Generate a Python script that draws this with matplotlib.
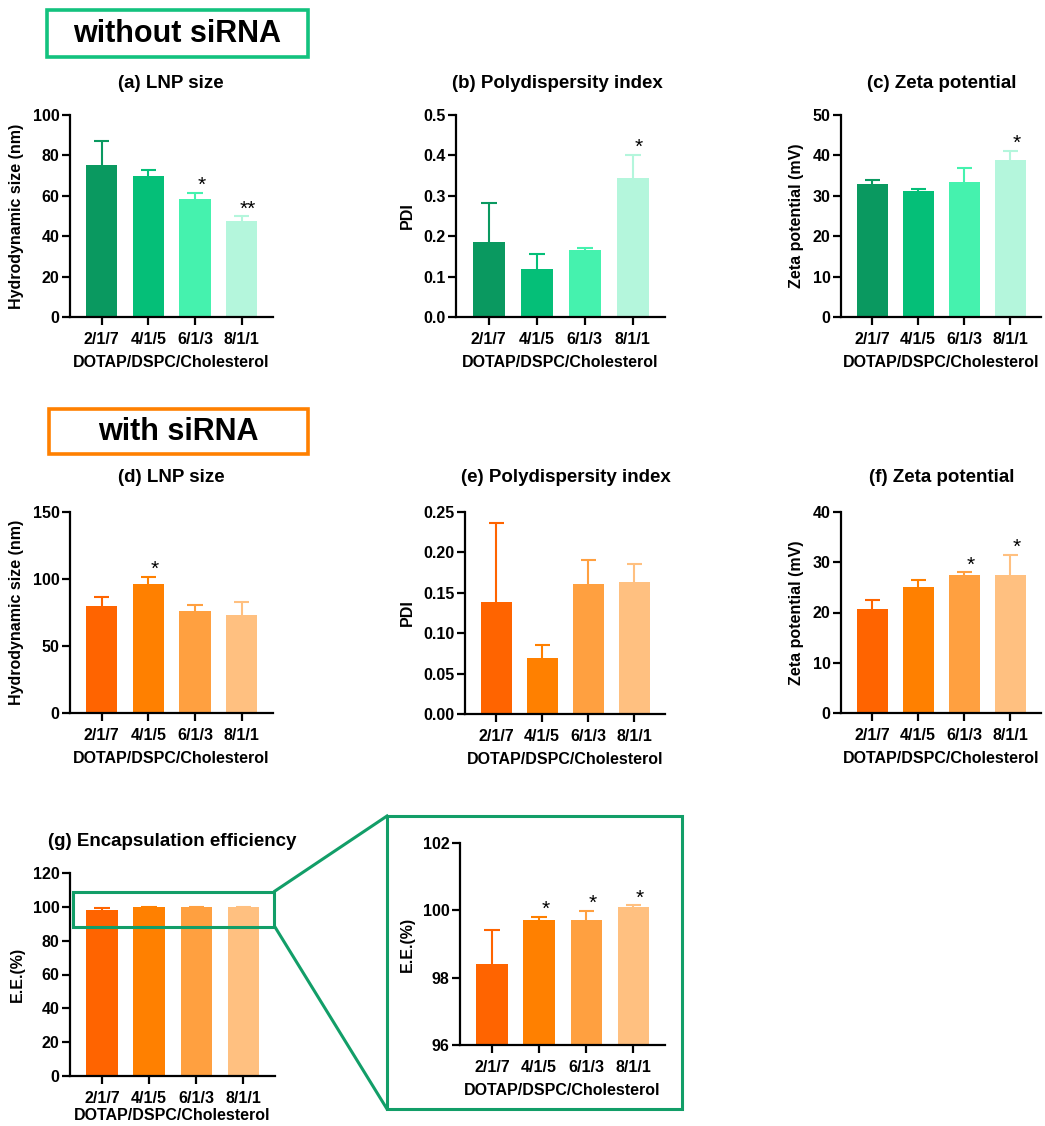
import matplotlib
matplotlib.use("Agg")
import matplotlib.pyplot as plt
from matplotlib.patches import Rectangle
from matplotlib.lines import Line2D

plt.rcParams['font.family'] = ['Liberation Sans', 'DejaVu Sans']
plt.rcParams['font.weight'] = 'bold'
plt.rcParams['axes.labelweight'] = 'bold'

# ---- data ----
ratios = ['2/1/7', '4/1/5', '6/1/3', '8/1/1']
xlabel = 'DOTAP/DSPC/Cholesterol'

green = ['#0a9960', '#05bf78', '#45f2ae', '#b4f6dc']
orange = ['#ff6400', '#ff8000', '#ffa040', '#ffc080']

size_free = [75.3, 69.6, 58.3, 47.4]
size_free_sd = [11.8, 3.0, 3.0, 2.4]
size_free_sig = ['', '', '*', '**']

pdi_free = [0.186, 0.118, 0.166, 0.344]
pdi_free_sd = [0.095, 0.037, 0.006, 0.058]
pdi_free_sig = ['', '', '', '*']

zeta_free = [32.9, 31.1, 33.4, 38.9]
zeta_free_sd = [0.9, 0.5, 3.4, 2.3]
zeta_free_sig = ['', '', '', '*']

size_si = [79.8, 96.0, 76.4, 73.4]
size_si_sd = [7.0, 5.4, 4.4, 9.4]
size_si_sig = ['', '*', '', '']

pdi_si = [0.139, 0.069, 0.161, 0.163]
pdi_si_sd = [0.098, 0.017, 0.029, 0.023]
pdi_si_sig = ['', '', '', '']

zeta_si = [20.7, 25.1, 27.5, 27.5]
zeta_si_sd = [1.7, 1.3, 0.5, 4.0]
zeta_si_sig = ['', '', '*', '*']

ee = [98.40, 99.71, 99.71, 100.10]
ee_sd = [1.01, 0.09, 0.27, 0.05]
ee_sig = ['', '*', '*', '*']

W, H = 1045, 1126
fig = plt.figure(figsize=(W / 100, H / 100), dpi=100)


def px_axes(l, t, r, b):
    return fig.add_axes([l / W, 1 - b / H, (r - l) / W, (b - t) / H])


def bar_panel(ax, vals, sds, colors, sig, ylim, yticks, ylabel, yfmt, xlabelpad=6):
    x = list(range(len(vals)))
    bottom = ylim[0] if ylim[0] > 0 else 0
    ax.bar(x, [v - bottom for v in vals], bottom=bottom, width=0.67, color=colors, zorder=2)
    for i in x:
        top = vals[i] + sds[i]
        # upper error bar only, behind the bar
        ax.vlines(i, vals[i], top, color=colors[i], linewidth=1.5, zorder=1)
        ax.hlines(top, i - 0.165, i + 0.165, color=colors[i], linewidth=1.5, zorder=1)
        if sig[i]:
            ax.annotate(sig[i], (i, top), xytext=(4.5, -1.5), textcoords='offset points',
                        ha='center', va='bottom', fontsize=15, fontweight='normal')
    ax.set_xlim(-0.68, 3.67)
    ax.set_ylim(*ylim)
    ax.set_yticks(yticks)
    ax.set_yticklabels([yfmt.format(t) for t in yticks])
    ax.set_xticks(x)
    ax.set_xticklabels(ratios)
    for s in ['top', 'right']:
        ax.spines[s].set_visible(False)
    for s in ['left', 'bottom']:
        ax.spines[s].set_linewidth(1.6)
    ax.tick_params(width=1.6, length=5.5, labelsize=11.5, pad=2)
    ax.tick_params(axis='x', pad=5)
    for lab in ax.get_xticklabels() + ax.get_yticklabels():
        lab.set_fontweight('bold')
    ax.set_xlabel(xlabel, fontsize=11.5, labelpad=xlabelpad)
    ax.set_ylabel(ylabel, fontsize=11.5, labelpad=6)


def title_px(x, y, s):
    fig.text(x / W, 1 - y / H, s, ha='center', va='center', fontsize=13.5, fontweight='bold')


# header boxes
def header(l, t, r, b, s, ec):
    fig.patches.append(Rectangle((l / W, 1 - b / H), (r - l) / W, (b - t) / H, transform=fig.transFigure,
                                 fill=False, edgecolor=ec, linewidth=2.6))
    fig.text((l + r) / 2 / W, 1 - (t + b) / 2 / H, s, ha='center', va='center', fontsize=22,
             fontweight='bold')


header(47, 10, 308, 57, 'without siRNA', '#13c27e')
header(49, 409, 308, 454, 'with siRNA', '#ff8000')

# row 1
ax = px_axes(70, 115, 273, 317)
bar_panel(ax, size_free, size_free_sd, green, size_free_sig, (0, 100), [0, 20, 40, 60, 80, 100],
          'Hydrodynamic size (nm)', '{:g}')
title_px(171, 83, '(a) LNP size')

ax = px_axes(456, 115, 665, 317)
bar_panel(ax, pdi_free, pdi_free_sd, green, pdi_free_sig, (0, 0.5), [0, 0.1, 0.2, 0.3, 0.4, 0.5],
          'PDI', '{:.1f}')
title_px(557, 83, '(b) Polydispersity index')

ax = px_axes(841, 115, 1041, 317)
bar_panel(ax, zeta_free, zeta_free_sd, green, zeta_free_sig, (0, 50), [0, 10, 20, 30, 40, 50],
          'Zeta potential (mV)', '{:g}')
title_px(942, 83, '(c) Zeta potential')

# row 2
ax = px_axes(70, 512, 273, 713)
bar_panel(ax, size_si, size_si_sd, orange, size_si_sig, (0, 150), [0, 50, 100, 150],
          'Hydrodynamic size (nm)', '{:g}')
title_px(171, 478, '(d) LNP size')

ax = px_axes(465, 512, 665, 714)
bar_panel(ax, pdi_si, pdi_si_sd, orange, pdi_si_sig, (0, 0.25), [0, 0.05, 0.10, 0.15, 0.20, 0.25],
          'PDI', '{:.2f}')
title_px(566, 478, '(e) Polydispersity index')

ax = px_axes(841, 512, 1041, 713)
bar_panel(ax, zeta_si, zeta_si_sd, orange, zeta_si_sig, (0, 40), [0, 10, 20, 30, 40],
          'Zeta potential (mV)', '{:g}')
title_px(942, 478, '(f) Zeta potential')

# row 3
axg = px_axes(70, 873, 275, 1076)
bar_panel(axg, ee, ee_sd, orange, ['', '', '', ''], (0, 120), [0, 20, 40, 60, 80, 100, 120],
          'E.E.(%)', '{:g}', xlabelpad=2)
title_px(172, 841, '(g) Encapsulation efficiency')

axi = px_axes(460, 843, 665, 1045)
bar_panel(axi, ee, ee_sd, orange, ee_sig, (96, 102), [96, 98, 100, 102], 'E.E.(%)', '{:g}')

zc = '#129e68'
# zoom rectangle in (g)
axg.add_patch(Rectangle((-0.62, 88), 4.27, 21, fill=False, edgecolor=zc, linewidth=2.2,
                        clip_on=False, zorder=5))
# inset frame and connectors
fig.patches.append(Rectangle((387 / W, 1 - 1109 / H), (682 - 387) / W, (1109 - 816) / H,
                             transform=fig.transFigure, fill=False, edgecolor=zc, linewidth=2.2))
fig.lines.append(Line2D([275 / W, 387 / W], [1 - 891 / H, 1 - 816 / H], transform=fig.transFigure,
                        color=zc, linewidth=2.2))
fig.lines.append(Line2D([275 / W, 387 / W], [1 - 927 / H, 1 - 1109 / H], transform=fig.transFigure,
                        color=zc, linewidth=2.2))

fig.savefig('out.png', dpi=100)
